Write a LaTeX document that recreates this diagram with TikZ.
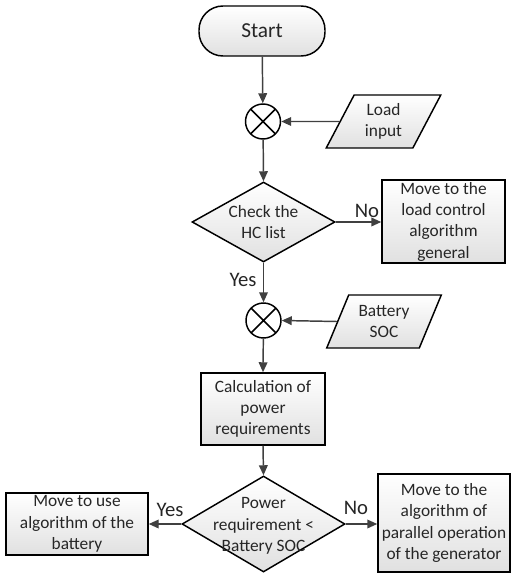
\documentclass[tikz,border=0pt]{standalone}
\usepackage{fontspec}
\setmainfont{Carlito}
\usetikzlibrary{shapes.geometric,arrows.meta}
\definecolor{arrowgray}{HTML}{404040}
\tikzset{
  boxfill/.style={top color=white,bottom color=black!12,draw=black,line width=1.1pt},
  body/.style={font=\fontsize{13}{16}\selectfont,align=center,text=black!85},
  termbox/.style={boxfill,rectangle,rounded corners=18pt,minimum width=94.5pt,minimum height=37.5pt,font=\fontsize{16}{19}\selectfont,text=black!85},
  procbox/.style={boxfill,rectangle,body,inner sep=1pt},
  iobox/.style={boxfill,trapezium,trapezium left angle=64,trapezium right angle=116,trapezium stretches=true,body,inner sep=0pt,minimum width=86pt,minimum height=39.75pt},
  decbox/.style={boxfill,diamond,inner sep=0pt},
  junction/.style={circle,draw=black,fill=white,line width=1.1pt,minimum size=26.25pt,inner sep=0pt,
    path picture={\draw[line width=1.1pt] (path picture bounding box.north west)--(path picture bounding box.south east)
      (path picture bounding box.north east)--(path picture bounding box.south west);}},
  flow/.style={draw=arrowgray,line width=1.1pt,-{Triangle[length=7.5pt,width=6.5pt]}},
  lab/.style={font=\fontsize{15.5}{18}\selectfont,text=black!85,inner sep=0pt}
}
\begin{document}
\begin{tikzpicture}[x=0.75pt,y=-0.75pt]
\useasboundingbox (0,0) rectangle (511,573);
\node[termbox] (start) at (262,31) {Start};
\node[junction] (j1) at (263,121.5) {};
\node[iobox] (load) at (383.5,121.5) {Load\\input};
\node[decbox,minimum width=107.25pt,minimum height=60pt] (check) at (263.5,222) {};
\node[body] (checkT) at (check) {Check the\\HC list};
\node[procbox,minimum width=92.25pt,minimum height=62.25pt] (gen) at (443.5,221.5) {Move to the\\load control\\algorithm\\general};
\node[junction] (j2) at (263.5,320.5) {};
\node[iobox] (batt) at (384,321.5) {Battery\\SOC};
\node[procbox,minimum width=93pt,minimum height=54pt] (calc) at (263,409) {Calculation of\\power\\requirements};
\node[decbox,minimum width=122.25pt,minimum height=72pt] (dec) at (263.5,524) {};
\node[body] (decT) at (263.5,526) {Power\\requirement <\\Battery SOC};
\node[procbox,minimum width=106.5pt,minimum height=46.5pt] (left) at (77,524) {Move to use\\algorithm of the\\battery};
\node[procbox,minimum width=99pt,minimum height=73.5pt] (right) at (444,523) {Move to the\\algorithm of\\parallel operation\\of the generator};

\draw[flow] (start) -- (j1);
\draw[flow] (load.west) -- (j1.east);
\draw[flow] (j1) -- (check.north);
\draw[flow] (check.east) -- (check.east -| gen.west);
\draw[flow] (check.south) -- (j2.north);
\draw[flow] (batt.west) -- (j2.east);
\draw[flow] (j2) -- (calc.north);
\draw[flow] (calc.south) -- (dec.north);
\draw[flow] (dec.west) -- (dec.west -| left.east);
\draw[flow] (dec.east) -- (dec.east -| right.west);

\node[lab] (no1) at (367,211) {No};
\node[lab] (yes1) at (243,280) {Yes};
\node[lab] (yes2) at (170,510) {Yes};
\node[lab] (no2) at (356,508) {No};
\end{tikzpicture}
\end{document}
